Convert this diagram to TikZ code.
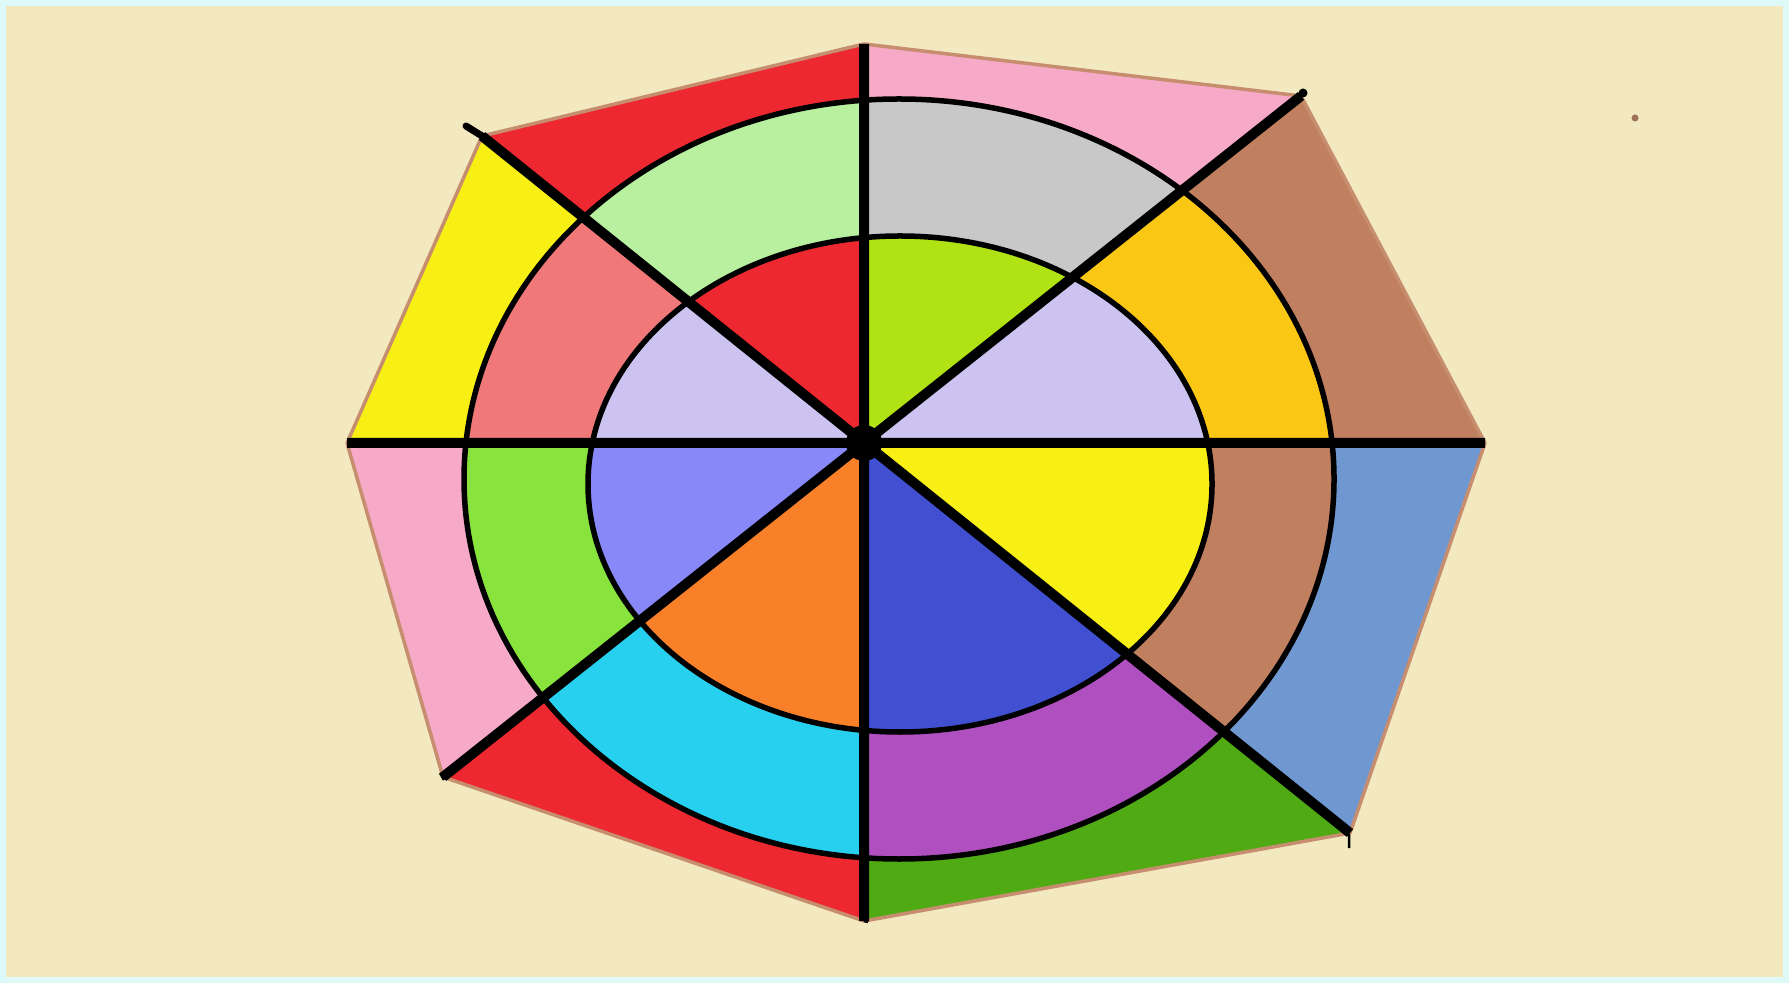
\documentclass[tikz,border=0pt]{standalone}
\definecolor{rim}{RGB}{222,250,248}
\definecolor{canvas}{RGB}{243,233,193}
\definecolor{edge}{RGB}{198,142,110}
\definecolor{pinkA}{RGB}{246,170,200}
\definecolor{greyA}{RGB}{200,200,200}
\definecolor{limeA}{RGB}{176,226,20}
\definecolor{lavA}{RGB}{205,195,240}
\definecolor{goldA}{RGB}{250,200,20}
\definecolor{brownA}{RGB}{192,128,96}
\definecolor{yellowA}{RGB}{248,240,20}
\definecolor{steelA}{RGB}{112,152,208}
\definecolor{blueA}{RGB}{64,80,208}
\definecolor{purpleA}{RGB}{176,80,192}
\definecolor{grassA}{RGB}{80,170,20}
\definecolor{orangeA}{RGB}{248,128,40}
\definecolor{cyanA}{RGB}{40,208,240}
\definecolor{redA}{RGB}{238,40,48}
\definecolor{periA}{RGB}{136,136,248}
\definecolor{greenA}{RGB}{136,228,60}
\definecolor{salmonA}{RGB}{240,120,120}
\definecolor{paleA}{RGB}{184,240,160}
\begin{document}
\begin{tikzpicture}[x=0.01cm,y=-0.01cm]
  \def\cx{899}\def\cy{479}\def\ra{435}\def\rb{380}
  \def\ix{900}\def\iy{484}\def\ia{312}\def\ib{248}
  \fill[rim] (0,0) rectangle (1789,983);
  \fill[canvas] (6,6) rectangle (1783,977);
  \useasboundingbox (0,0) rectangle (1789,983);
  \coordinate (o) at (864,443);
  \coordinate (v1) at (864,44);   \coordinate (v2) at (1301,96);
  \coordinate (v3) at (1485,443); \coordinate (v4) at (1350,833);
  \coordinate (v5) at (864,921);  \coordinate (v6) at (443,777);
  \coordinate (v7) at (347,443);  \coordinate (v8) at (482,136);
  \foreach \a/\b/\co/\cm/\ci in {v1/v2/pinkA/greyA/limeA,v2/v3/brownA/goldA/lavA,
      v3/v4/steelA/brownA/yellowA,v4/v5/grassA/purpleA/blueA,v5/v6/redA/cyanA/orangeA,
      v6/v7/pinkA/greenA/periA,v7/v8/yellowA/salmonA/lavA,v8/v1/redA/paleA/redA}{
    \begin{scope}
      \clip (o)--(\a)--(\b)--cycle;
      \fill[\co] (o)--(\a)--(\b)--cycle;
      \fill[\cm] (\cx,\cy) ellipse [x radius=\ra,y radius=\rb];
      \fill[\ci] (\ix,\iy) ellipse [x radius=\ia,y radius=\ib];
    \end{scope}}
  \draw[line width=0.055cm] (\cx,\cy) ellipse [x radius=\ra,y radius=\rb];
  \draw[line width=0.055cm] (\ix,\iy) ellipse [x radius=\ia,y radius=\ib];
  \draw[edge,line width=0.035cm,line join=round] (v1)--(v2)--(v3)--(v4)--(v5)--(v6)--(v7)--(v8)--cycle;
  \draw[line width=0.1cm] (v1)--(v5) (v3)--(v7) (v2)--(v6) (v8)--(v4);
  % small marks at the corners
  \draw[line width=0.07cm,line cap=round] (466,126)--(v8);
  \fill (1303,93) circle (4.5);
  \draw[line width=0.025cm] (1349,834)--(1349,848) (440,773)--(444,780) (864,921)--(868,922);
  \fill (o) circle (8);
  \draw[line width=0.06cm] (o) circle (15);
  \fill[edge!80!black] (1635,118) circle (3.5);
\end{tikzpicture}
\end{document}
